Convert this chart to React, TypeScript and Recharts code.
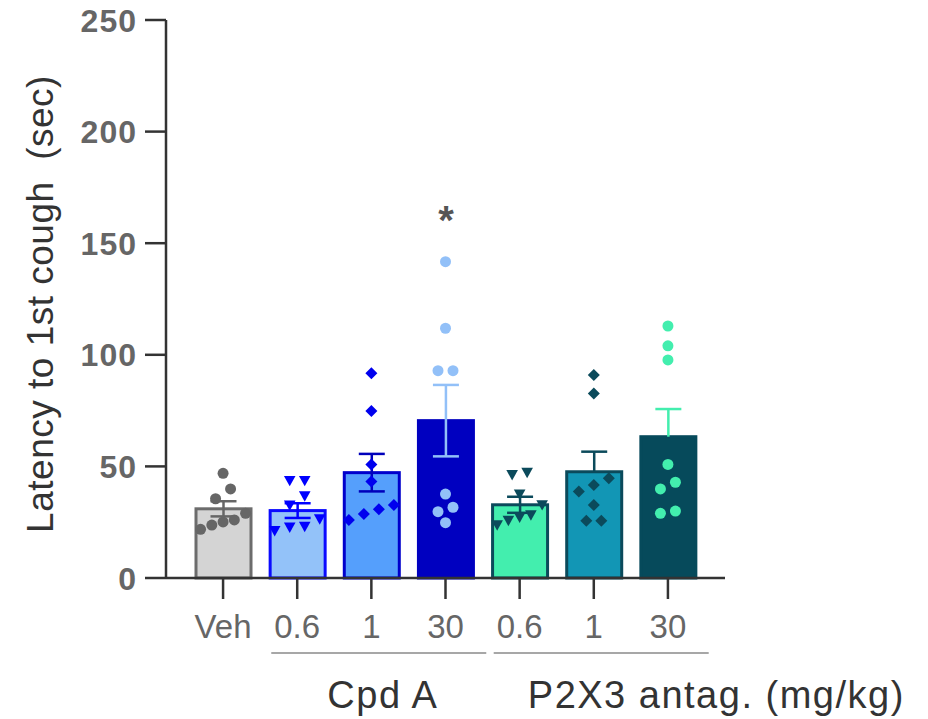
import { Bar, ComposedChart, Label, Scatter, XAxis, YAxis } from 'recharts'

// groups, in axis order
const groupKeys = ['veh', 'cpdA06', 'cpdA1', 'cpdA30', 'p2x306', 'p2x31', 'p2x330']
const tickLabels = ['Veh', '0.6', '1', '30', '0.6', '1', '30']
const means = [31.0, 30.2, 47.2, 70.5, 32.8, 47.6, 63.3]
const sems = [3.4, 3.3, 8.4, 16.0, 3.6, 9.0, 12.4]
const errorDirs = ['both', 'both', 'both', 'both', 'both', 'up', 'up']
const significance = ['', '', '', '*', '', '', '']

// individual animals
const vehPoints = [46.9, 39.9, 35.5, 29.0, 26.0, 25.1, 23.7, 21.8]
const cpdA06Points = [43.6, 43.6, 36.7, 32.6, 26.4, 23.0, 22.7, 21.1]
const cpdA1Points = [91.7, 74.8, 50.9, 43.2, 32.7, 30.8, 28.7, 26.0]
const cpdA30Points = [141.7, 111.9, 92.9, 92.9, 37.6, 31.7, 29.7, 24.8]
const p2x306Points = [47.2, 46.2, 37.5, 32.7, 28.2, 27.2, 25.7, 23.7]
const p2x31Points = [90.9, 82.7, 44.7, 41.7, 38.7, 32.7, 25.7, 25.7]
const p2x330Points = [112.9, 104.0, 97.7, 50.9, 42.9, 39.9, 30.0, 29.0]
const pointSets = [vehPoints, cpdA06Points, cpdA1Points, cpdA30Points, p2x306Points, p2x31Points, p2x330Points]

const groupNames = ['Cpd A', 'P2X3 antag. (mg/kg)']
const groupMembers = [[1, 2, 3], [4, 5, 6]]

const yTicks = [0, 50, 100, 150, 200, 250]

const fills = ['#d4d4d4', '#93c2f9', '#559ffc', '#0000c0', '#43eeae', '#1296b5', '#064a5b']
const strokes = ['#6c6c6c', '#0a0aff', '#0000cc', '#0000c0', '#0b4a5b', '#0b4a5b', '#064a5b']
const markerColors = ['#666666', '#0000ff', '#0000ee', '#92c0f8', '#0b4a5b', '#0b4a5b', '#43eeae']
const errorColors = ['#666666', '#0000ff', '#0000bb', '#92c0f8', '#0b4a5b', '#0b4a5b', '#43eeae']
const markerShapes = ['circle', 'triangle', 'diamond', 'circle', 'triangle', 'diamond', 'circle']

const W = 928
const H = 719
const TOP = 20
const X_AXIS_H = 141
const Y_AXIS_W = 166
const FONT = "'Liberation Sans', Arial, sans-serif"
const AXIS = '#333333'

const PX_PER_UNIT = (H - TOP - X_AXIS_H) / 250
const MARKER_D = 10.5
const SPREAD = 15
const MAX_WIDTH = 45

// simple column scatter: points that would overlap share a row and spread sideways
function swarm(values: number[]) {
  const order = values.map((_, i) => i).sort((a, b) => values[b] - values[a])
  const dx = new Array(values.length).fill(0)
  let row: number[] = []
  const flush = () => {
    const step = row.length > 1 ? Math.min(SPREAD, MAX_WIDTH / (row.length - 1)) : 0
    row.forEach((idx, j) => {
      dx[idx] = ((row.length - 1) / 2 - j) * step
    })
    row = []
  }
  order.forEach((idx) => {
    const prev = row[row.length - 1]
    if (prev !== undefined && (values[prev] - values[idx]) * PX_PER_UNIT >= MARKER_D) flush()
    row.push(idx)
  })
  flush()
  return dx
}

const barRows = groupKeys.map((key, g) => ({ key, mean: means[g], sem: sems[g], g }))
const pointRows = groupKeys.flatMap((key, g) => {
  const dx = swarm(pointSets[g])
  return pointSets[g].map((value, i) => ({ key, value, g, dx: dx[i] }))
})

function MeanBar(props: any) {
  const { x, y, width, height, payload } = props
  const g = payload.g
  const perUnit = height / payload.mean
  const cx = x + width / 2
  const top = y - payload.sem * perUnit
  const bottom = errorDirs[g] === 'both' ? y + payload.sem * perUnit : y
  const cap = 13
  const err = errorColors[g]
  const maxPt = Math.max(...pointSets[g])
  const maxPy = y + height - maxPt * perUnit
  return (
    <g>
      <rect x={x} y={y} width={width} height={height} fill={fills[g]} stroke={strokes[g]} strokeWidth={3} />
      <line x1={cx} x2={cx} y1={top} y2={bottom} stroke={err} strokeWidth={2.5} />
      <line x1={cx - cap} x2={cx + cap} y1={top} y2={top} stroke={err} strokeWidth={2.5} />
      {errorDirs[g] === 'both' && (
        <line x1={cx - cap} x2={cx + cap} y1={bottom} y2={bottom} stroke={err} strokeWidth={2.5} />
      )}
      {significance[g] && (
        <text x={cx} y={maxPy - 28} textAnchor="middle" fontSize={40} fontWeight={700} fill="#555" fontFamily={FONT}>
          {significance[g]}
        </text>
      )}
    </g>
  )
}

function Marker(props: any) {
  const { cx, cy, payload } = props
  if (cx == null || cy == null) return null
  const x = cx + payload.dx
  const color = markerColors[payload.g]
  const shape = markerShapes[payload.g]
  if (shape === 'triangle') {
    return <polygon points={`${x - 5.8},${cy - 4.8} ${x + 5.8},${cy - 4.8} ${x},${cy + 5.6}`} fill={color} />
  }
  if (shape === 'diamond') {
    return <polygon points={`${x},${cy - 6} ${x + 6},${cy} ${x},${cy + 6} ${x - 6},${cy}`} fill={color} />
  }
  return <circle cx={x} cy={cy} r={5.5} fill={color} />
}

function CategoryTick(props: any) {
  const { x, y, payload } = props
  const i = groupKeys.indexOf(payload.value)
  const half = payload.offset || 37
  const gi = groupMembers.findIndex((m) => m[1] === i)
  const labelShift = [-44, -66]
  return (
    <g>
      <text x={x} y={y + 37} textAnchor="middle" fontSize={33} fill="#666" fontFamily={FONT}>
        {tickLabels[i]}
      </text>
      {gi >= 0 && (
        <g>
          <line x1={x - 2.7 * half} x2={x + 3.1 * half} y1={y + 52} y2={y + 52} stroke="#8a8a8a" strokeWidth={1.5} />
          <text x={x + labelShift[gi]} y={y + 107} fontSize={38} fill="#333" fontFamily={FONT} letterSpacing={1.5}>
            {groupNames[gi]}
          </text>
        </g>
      )}
    </g>
  )
}

function ValueTick(props: any) {
  const { x, y, payload } = props
  return (
    <text
      x={x - 6}
      y={y + 11.5}
      textAnchor="end"
      fontSize={32}
      fontWeight={700}
      fill="#666"
      fontFamily={FONT}
      letterSpacing={1}
    >
      {payload.value}
    </text>
  )
}

export default function App() {
  return (
    <div style={{ position: 'absolute', left: 0, top: 0, width: W, height: H, background: '#fff' }}>
      <ComposedChart width={W} height={H} data={barRows} margin={{ top: TOP, right: 203, bottom: 0, left: 0 }}>
        <XAxis
          dataKey="key"
          type="category"
          allowDuplicatedCategory={false}
          height={X_AXIS_H}
          padding={{ left: 20, right: 20 }}
          interval={0}
          tickSize={21}
          axisLine={{ stroke: AXIS, strokeWidth: 2.5 }}
          tickLine={{ stroke: AXIS, strokeWidth: 2.5 }}
          tick={<CategoryTick />}
        />
        <YAxis
          type="number"
          domain={[0, 250]}
          ticks={yTicks}
          interval={0}
          width={Y_AXIS_W}
          tickSize={21}
          axisLine={{ stroke: AXIS, strokeWidth: 2.5 }}
          tickLine={{ stroke: AXIS, strokeWidth: 2.5 }}
          tick={<ValueTick />}
        >
          <Label
            content={(p: any) => {
              const vb = p.viewBox || { y: TOP, height: H - TOP - X_AXIS_H }
              const cy = vb.y + vb.height / 2 + 5
              return (
                <text
                  x={53}
                  y={cy}
                  transform={`rotate(-90, 53, ${cy})`}
                  textAnchor="middle"
                  fontSize={37}
                  fill="#333"
                  fontFamily={FONT}
                  letterSpacing={0.5}
                >
                  {'Latency to 1st cough\u00a0\u00a0(sec)'}
                </text>
              )
            }}
          />
        </YAxis>
        <Bar dataKey="mean" barSize={55} shape={<MeanBar />} isAnimationActive={false} />
        <Scatter data={pointRows} dataKey="value" shape={<Marker />} isAnimationActive={false} />
      </ComposedChart>
    </div>
  )
}
